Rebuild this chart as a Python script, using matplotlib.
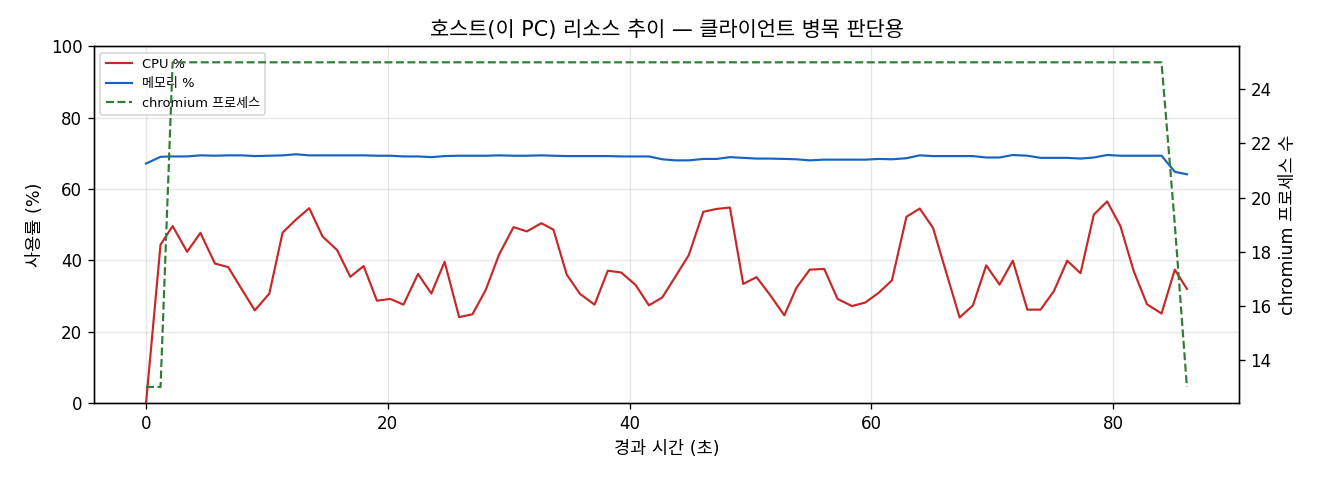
import matplotlib
matplotlib.use('Agg')

import matplotlib.pyplot as plt

plt.rcParams['font.family'] = ['DejaVu Sans', 'Noto Sans CJK KR']
plt.rcParams['axes.unicode_minus'] = False

# elapsed seconds of each sample
elapsed = [0.0, 1.2, 2.2, 3.4, 4.5, 5.7, 6.8, 7.9, 9.0, 10.2,
           11.3, 12.4, 13.5, 14.6, 15.8, 16.9, 18.0, 19.1, 20.2, 21.3,
           22.5, 23.6, 24.7, 25.9, 27.0, 28.1, 29.2, 30.4, 31.5, 32.7,
           33.7, 34.8, 35.9, 37.1, 38.2, 39.3, 40.5, 41.6, 42.7, 43.8,
           44.9, 46.1, 47.2, 48.3, 49.4, 50.5, 51.6, 52.8, 53.8, 54.9,
           56.1, 57.2, 58.4, 59.5, 60.6, 61.7, 62.9, 64.0, 65.1, 66.2,
           67.3, 68.4, 69.5, 70.6, 71.7, 72.9, 74.0, 75.1, 76.2, 77.3,
           78.4, 79.5, 80.6, 81.7, 82.8, 84.0, 85.1, 86.1]

cpu = [0.0, 44.4, 49.6, 42.4, 47.7, 39.1, 38.1, 32.0, 26.0, 30.7,
       47.8, 51.4, 54.6, 46.7, 42.9, 35.4, 38.4, 28.7, 29.2, 27.6,
       36.2, 30.7, 39.6, 24.1, 24.9, 31.7, 41.6, 49.3, 48.1, 50.4,
       48.6, 36.0, 30.6, 27.6, 37.1, 36.6, 33.1, 27.4, 29.6, 35.5,
       41.5, 53.6, 54.4, 54.8, 33.4, 35.3, 30.4, 24.6, 32.3, 37.4,
       37.6, 29.2, 27.2, 28.2, 30.9, 34.4, 52.2, 54.5, 49.1, 36.5,
       24.0, 27.4, 38.6, 33.2, 39.9, 26.2, 26.2, 31.4, 39.9, 36.4,
       52.8, 56.5, 49.6, 37.0, 27.7, 25.1, 37.4, 32.0]

mem = [67.1, 69.0, 69.1, 69.1, 69.4, 69.3, 69.4, 69.4, 69.2, 69.3,
       69.4, 69.7, 69.4, 69.4, 69.4, 69.4, 69.4, 69.3, 69.3, 69.1,
       69.1, 68.9, 69.2, 69.3, 69.3, 69.3, 69.4, 69.3, 69.3, 69.4,
       69.3, 69.2, 69.2, 69.2, 69.2, 69.1, 69.1, 69.1, 68.3, 68.0,
       68.0, 68.4, 68.4, 68.9, 68.7, 68.5, 68.5, 68.4, 68.3, 68.0,
       68.2, 68.2, 68.2, 68.2, 68.4, 68.3, 68.6, 69.4, 69.2, 69.2,
       69.2, 69.2, 68.8, 68.8, 69.5, 69.3, 68.7, 68.7, 68.7, 68.5,
       68.8, 69.5, 69.3, 69.3, 69.3, 69.3, 64.8, 64.1]

chromium = [13, 13] + [25] * 74 + [19, 13]

fig, ax = plt.subplots(figsize=(11, 4), dpi=120)
fig.subplots_adjust(left=0.0712, right=0.9386, top=0.904, bottom=0.160)

l1, = ax.plot(elapsed, cpu, color='#c62828', lw=1.3, label='CPU %')
l2, = ax.plot(elapsed, mem, color='#1565c0', lw=1.3, label='메모리 %')
ax.set_ylim(0, 100)
ax.set_xlabel('경과 시간 (초)', fontsize=10.5)
ax.set_ylabel('사용률 (%)', fontsize=10.5)
ax.grid(True, alpha=0.3)

ax2 = ax.twinx()
l3, = ax2.plot(elapsed, chromium, color='#2e7d32', lw=1.3, ls='--', label='chromium 프로세스')
ax2.set_ylabel('chromium 프로세스 수', fontsize=10.5)

ax.legend(handles=[l1, l2, l3], loc='upper left', fontsize=7.8)
ax.set_title('호스트(이 PC) 리소스 추이 — 클라이언트 병목 판단용', fontsize=12.5)

plt.savefig('out.png')
